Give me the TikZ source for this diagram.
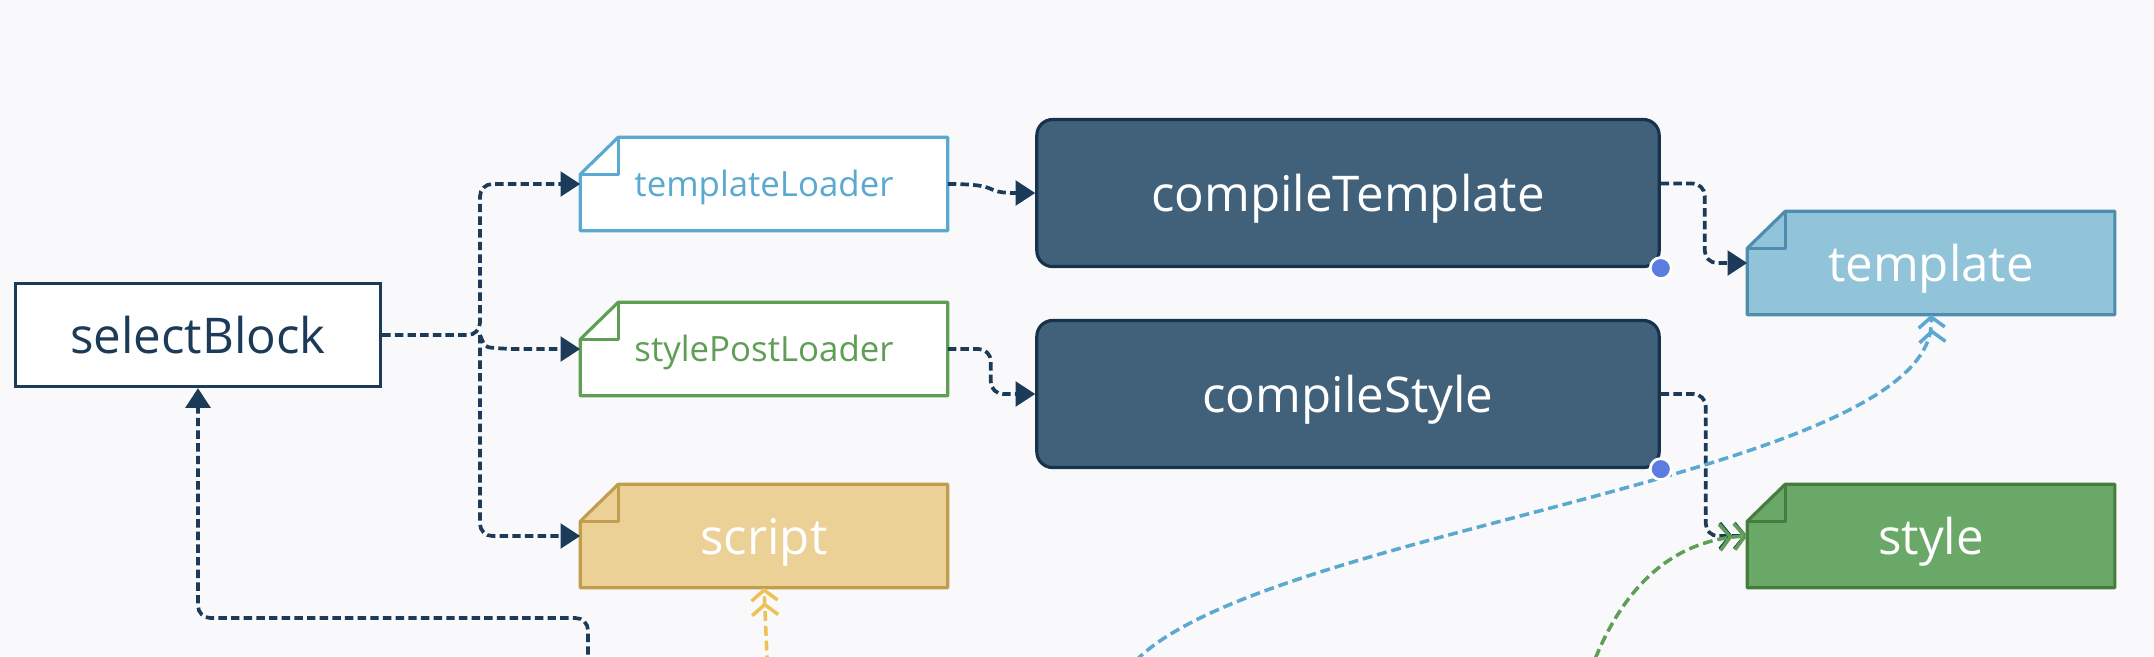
\documentclass[tikz,border=0pt]{standalone}
\usepackage{fontspec}
\setmainfont{Open Sans}
\usetikzlibrary{calc}
\usetikzlibrary{arrows.meta}
\definecolor{pagebg}{HTML}{F9F9FB}
\definecolor{navy}{HTML}{1C3B58}
\definecolor{taskfill}{HTML}{41607A}
\definecolor{taskline}{HTML}{17324D}
\definecolor{loaderblue}{HTML}{5BA8D0}
\definecolor{loadergreen}{HTML}{5E9F55}
\definecolor{scriptfill}{HTML}{ECD196}
\definecolor{scriptline}{HTML}{C19D4F}
\definecolor{scriptflow}{HTML}{EEC155}
\definecolor{tplfill}{HTML}{91C3D9}
\definecolor{tplline}{HTML}{4E8DAD}
\definecolor{stylefill}{HTML}{6AA867}
\definecolor{styleline}{HTML}{467C40}
\definecolor{portdot}{HTML}{5C7CE0}
\newcommand\labelbig{\fontsize{14}{17}\selectfont}
\newcommand\labelsmall{\fontsize{9.9}{12}\selectfont}
\pgfdeclarelayer{back}
\pgfsetlayers{back,main}
\tikzset{
  lbl/.style={inner sep=0pt, text depth=0pt, align=center},
  block/.style={lbl, draw=navy, line width=0.9pt, fill=white, text=navy,
    minimum width=3.65cm, minimum height=1.03cm, text height=10.4pt, font=\labelbig},
  task/.style={lbl, draw=taskline, fill=taskfill, rounded corners=4.5pt, line width=0.9pt,
    text=white, minimum width=6.22cm, minimum height=1.47cm, text height=10.4pt, font=\labelbig},
  smallnote/.style={lbl, minimum width=3.66cm, minimum height=0.92cm, text height=7.3pt, font=\labelsmall},
  bignote/.style={lbl, minimum width=3.66cm, minimum height=1.02cm, text height=10.4pt, font=\labelbig, text=white},
  tplloader/.style={smallnote, text=loaderblue},
  styloader/.style={smallnote, text=loadergreen},
  scriptnote/.style={bignote},
  tplnote/.style={bignote},
  stylenote/.style={bignote},
  notebox/.style={line width=0.9pt, line join=round},
  flow/.style={navy, line width=1.05pt, dash pattern=on 2.4pt off 1.2pt, rounded corners=3.5pt},
  feed/.style={line width=1pt, dash pattern=on 2.8pt off 1.4pt},
  tri/.style={-{Triangle[length=5.6pt,width=7pt]}},
  chev/.style={-{Straight Barb[length=3pt,width=7.4pt,line width=1pt,sep=0pt]Straight Barb[length=3pt,width=7.4pt,line width=1pt]}},
  dot/.style={fill=portdot, draw=white, line width=0.8pt}
}
\begin{document}
\begin{tikzpicture}[x=0.01cm,y=-0.01cm]
  \useasboundingbox (0,0) rectangle (2154,656);
  \clip (0,0) rectangle (2154,656);
  \begin{pgfonlayer}{back}
    \fill[pagebg] (0,0) rectangle (2154,656);
  \end{pgfonlayer}
  \foreach \x/\y/\id/\sty in {
    198/335/selectBlock/block,
    764/184/templateLoader/tplloader,
    764/349/stylePostLoader/styloader,
    764/536/script/scriptnote,
    1348/193/compileTemplate/task,
    1348/394/compileStyle/task,
    1931/263/template/tplnote,
    1931/536/style/stylenote%
  } {
    \node[\sty] (\id) at (\x, \y) {\id};
  }
  % folded notes
  \begin{pgfonlayer}{back}
    \foreach \n/\c/\f in {
      templateLoader/loaderblue/white,
      stylePostLoader/loadergreen/white,
      script/scriptline/scriptfill,
      template/tplline/tplfill,
      style/styleline/stylefill%
    } {
      \draw[notebox, draw=\c, fill=\f] ($(\n.north west)+(38,0)$) -- (\n.north east)
        -- (\n.south east) -- (\n.south west) -- ($(\n.north west)+(0,37)$) -- cycle;
      \draw[notebox, draw=\c] ($(\n.north west)+(0,37)$) -- ++(38,0) -- ++(0,-37);
    }
  \end{pgfonlayer}
  \coordinate (fork) at (480,335);
  \coordinate (loopstart) at (588,680);
  \coordinate (scriptsrc) at (768,680);
  \coordinate (tplsrc) at (1126,672);
  \coordinate (stylesrc) at (1590,672);
  \draw[flow, tri] (selectBlock.east) -- (fork) |- (templateLoader.west);
  \draw[flow, tri] (fork) |- (script.west);
  \draw[flow, tri] (fork) .. controls (485,347) .. (505,349) -- (stylePostLoader.west);
  \draw[flow, tri] (templateLoader.east) .. controls (1005,184) and (980,193) .. (compileTemplate.west);
  \draw[flow, tri] (stylePostLoader.east) -- ++(43,0) |- (compileStyle.west);
  \draw[flow, tri] ([yshift=0.095cm]compileTemplate.east) -- ++(44,0) |- (template.west);
  \draw[flow, chev] (compileStyle.east) -- ++(45,0) |- (style.west);
  \draw[flow, tri] (loopstart) -- ++(0,-62) -| (selectBlock.south);
  % incoming feeds
  \draw[feed, scriptflow, chev] (scriptsrc) -- (script.south);
  \draw[feed, loaderblue, chev] (tplsrc) .. controls (1230,530) and (1940,480) .. (template.south);
  \draw[feed, loadergreen, chev] (stylesrc) .. controls (1620,590) and (1670,540) .. (style.west);
  \foreach \n in {compileTemplate, compileStyle}
    \filldraw[dot] (\n.south east) circle (3pt);
\end{tikzpicture}
\end{document}
